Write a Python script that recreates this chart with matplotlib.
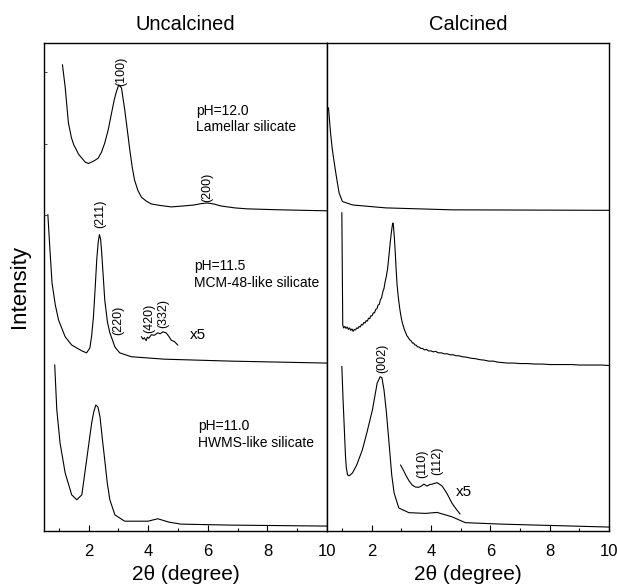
import matplotlib.pyplot as plt
from matplotlib.ticker import MultipleLocator

plt.rcParams["font.family"] = ["Liberation Sans", "DejaVu Sans"]

# --- uncalcined samples (2theta in degree, intensity in a.u., stacked) ---
lam_x = [1.12, 1.21, 1.32, 1.42, 1.50, 1.58, 1.66, 1.77, 1.88, 1.99, 2.10, 2.20, 2.32, 2.43,
         2.54, 2.66, 2.77, 2.86, 2.93, 3.01, 3.10, 3.21, 3.30, 3.38, 3.46, 3.54, 3.65, 3.77,
         3.93, 4.10, 4.40, 4.77, 5.20, 5.54, 5.80, 5.99, 6.20, 6.43, 6.90, 7.32, 8.43, 10.0]
lam_y = [95.5, 91.0, 83.6, 80.6, 79.1, 78.2, 77.2, 76.4, 75.6, 75.3, 75.6, 75.9, 76.4, 77.6,
         79.5, 82.3, 85.7, 88.4, 90.0, 91.4, 90.8, 86.3, 82.0, 78.1, 74.6, 71.9, 69.8, 68.4,
         67.6, 67.0, 66.7, 66.4, 66.6, 66.8, 67.1, 67.2, 67.0, 66.6, 66.2, 66.0, 65.8, 65.6]

mcm_x = [0.63, 0.70, 0.77, 0.88, 0.99, 1.21, 1.43, 1.77, 1.93, 2.04, 2.10, 2.16, 2.22, 2.27,
         2.32, 2.36, 2.40, 2.43, 2.48, 2.54, 2.63, 2.71, 2.80, 2.88, 3.04, 3.43, 4.54, 6.77, 10.0]
mcm_y = [64.8, 57.6, 50.8, 46.3, 43.2, 39.8, 38.1, 36.9, 36.5, 37.5, 40.0, 43.9, 50.0, 55.5,
         59.2, 60.7, 59.8, 57.6, 53.0, 47.3, 42.8, 40.6, 39.1, 37.7, 36.5, 35.7, 35.2, 34.8, 34.4]
mcm_x5_x = [3.77, 3.82, 3.87, 3.93, 3.97, 4.02, 4.10, 4.20, 4.32, 4.40, 4.49, 4.60, 4.70, 4.77, 4.88, 4.99]
mcm_x5_y = [39.8, 39.3, 39.6, 39.0, 39.7, 39.5, 40.2, 40.1, 40.6, 40.4, 40.8, 40.6, 39.8, 39.1, 38.8, 38.1]

hwm_x = [0.86, 0.93, 1.04, 1.21, 1.43, 1.60, 1.77, 1.93, 2.03, 2.10, 2.17, 2.24, 2.31, 2.38,
         2.46, 2.54, 2.62, 2.71, 2.88, 3.21, 3.60, 3.99, 4.32, 4.70, 5.10, 6.77, 10.0]
hwm_y = [34.0, 24.8, 18.0, 11.9, 7.4, 6.4, 7.4, 14.5, 19.0, 22.1, 24.4, 25.8, 25.4, 23.4,
         18.8, 14.5, 10.0, 6.4, 3.3, 2.0, 2.0, 2.0, 2.5, 1.8, 1.4, 1.2, 1.0]

# --- calcined samples ---
lam_c_x = [0.55, 0.62, 0.68, 0.78, 0.85, 0.91, 1.02, 1.36, 2.48, 4.71, 10.0]
lam_c_y = [86.7, 81.5, 78.1, 74.0, 71.3, 69.2, 67.5, 66.8, 66.2, 65.8, 65.7]

mcm_c_x = [1.00, 1.03, 1.06, 1.10, 1.14, 1.18, 1.22, 1.26, 1.30, 1.34, 1.38, 1.42, 1.46, 1.50,
           1.54, 1.58, 1.62, 1.66, 1.70, 1.74, 1.78, 1.82, 1.86, 1.90, 1.94, 1.98, 2.02, 2.06,
           2.10, 2.14, 2.18, 2.22, 2.26, 2.30, 2.34, 2.38, 2.42, 2.46, 2.50, 2.54, 2.58, 2.62,
           2.66, 2.70, 2.72, 2.74, 2.77, 2.80, 2.83, 2.86, 2.89, 2.92, 2.95, 2.98, 3.01, 3.04,
           3.07, 3.10, 3.13, 3.16, 3.19, 3.22, 3.26, 3.30, 3.34, 3.38, 3.42, 3.46, 3.50, 3.55,
           3.60, 3.66, 3.72, 3.78, 3.85, 3.92, 4.00, 4.08, 4.16, 4.25, 4.35, 4.45, 4.55, 4.65,
           4.75, 4.85, 4.95, 5.05, 5.20, 5.35, 5.50, 5.65, 5.80, 5.95, 6.10, 6.25, 6.40, 6.60,
           6.80, 7.00, 7.25, 7.50, 7.75, 8.00, 8.25, 8.50, 8.75, 9.00, 9.25, 9.50, 9.75, 10.0]
mcm_c_y = [65.2, 42.2, 41.6, 41.9, 41.5, 41.8, 41.3, 41.6, 41.1, 41.4, 40.9, 41.3, 41.2, 41.6,
           41.5, 41.9, 41.8, 42.3, 42.2, 42.7, 42.6, 43.1, 43.0, 43.6, 43.5, 44.1, 44.1, 44.7,
           44.7, 45.4, 45.5, 46.3, 46.4, 47.4, 47.8, 49.0, 49.7, 51.1, 52.2, 53.7, 56.0, 58.5,
           60.8, 62.6, 63.1, 62.4, 60.0, 57.0, 53.5, 50.5, 48.6, 47.0, 45.6, 44.4, 43.4, 42.6,
           42.0, 41.4, 40.9, 40.5, 40.0, 39.8, 39.4, 39.1, 38.9, 38.5, 38.5, 38.1, 38.1, 37.7,
           37.7, 37.4, 37.4, 37.1, 37.2, 36.9, 36.9, 36.7, 36.8, 36.5, 36.5, 36.3, 36.3, 36.1,
           36.1, 35.9, 35.9, 35.7, 35.6, 35.4, 35.3, 35.1, 35.0, 34.8, 34.8, 34.6, 34.5, 34.4,
           34.4, 34.3, 34.3, 34.2, 34.2, 34.1, 34.1, 34.1, 34.1, 34.0, 34.0, 34.0, 34.0, 33.9]

hwm_c_x = [1.00, 1.04, 1.08, 1.12, 1.15, 1.19, 1.25, 1.36, 1.50, 1.69, 1.85, 2.03, 2.19, 2.29,
           2.35, 2.42, 2.50, 2.59, 2.68, 2.76, 2.92, 3.26, 3.82, 4.21, 4.71, 5.16, 6.39, 10.0]
hwm_c_y = [33.7, 27.0, 21.4, 15.6, 13.0, 11.5, 11.3, 11.9, 13.5, 16.6, 20.3, 24.8, 30.3, 31.6,
           31.4, 28.9, 24.4, 18.0, 11.5, 7.8, 4.7, 3.75, 3.6, 3.8, 2.9, 1.7, 1.4, 0.8]
hwm_c_x5_x = [2.98, 3.06, 3.15, 3.26, 3.37, 3.48, 3.59, 3.68, 3.76, 3.87, 3.96, 4.04, 4.21, 4.38, 4.54, 4.71, 4.85, 4.98]
hwm_c_x5_y = [13.5, 12.6, 11.5, 10.3, 9.4, 9.0, 8.95, 9.2, 9.6, 9.2, 9.5, 9.6, 9.9, 9.2, 7.7, 5.7, 4.5, 3.5]

# reflection labels: (text, 2theta, bottom of label)
left_refl = [("(100)", 3.10, 91.2), ("(200)", 5.99, 67.4), ("(211)", 2.38, 62.1),
             ("(220)", 3.00, 40.2), ("(420)", 4.03, 40.6), ("(332)", 4.49, 41.6)]
right_refl = [("(002)", 2.36, 32.4), ("(110)", 3.70, 10.9), ("(112)", 4.21, 11.5)]

left_notes = [("pH=12.0\nLamellar silicate", 5.6, 84.4),
              ("pH=11.5\nMCM-48-like silicate", 5.54, 52.5),
              ("pH=11.0\nHWMS-like silicate", 5.66, 19.8)]
scale_marks = [(0, 5.41, 40.2), (1, 4.83, 8.05)]

fig = plt.figure(figsize=(6.17, 5.88), dpi=100)
ax_l = fig.add_axes([0.0713, 0.097, 0.4587, 0.830])
ax_r = fig.add_axes([0.5300, 0.097, 0.4570, 0.830])
axes = [ax_l, ax_r]

lw = 0.8
ax_l.plot(lam_x, lam_y, color="black", lw=lw)
ax_l.plot(mcm_x, mcm_y, color="black", lw=lw)
ax_l.plot(mcm_x5_x, mcm_x5_y, color="black", lw=lw)
ax_l.plot(hwm_x, hwm_y, color="black", lw=lw)

ax_r.plot(lam_c_x, lam_c_y, color="black", lw=lw)
ax_r.plot(mcm_c_x, mcm_c_y, color="black", lw=lw)
ax_r.plot(hwm_c_x, hwm_c_y, color="black", lw=lw)
ax_r.plot(hwm_c_x5_x, hwm_c_x5_y, color="black", lw=lw)

for ax, refl in zip(axes, [left_refl, right_refl]):
    for label, x, y in refl:
        ax.text(x, y, label, rotation=90, ha="center", va="bottom", fontsize=9)

for label, x, y in left_notes:
    ax_l.text(x, y, label, ha="left", va="center", fontsize=10, linespacing=1.25)

for i, x, y in scale_marks:
    axes[i].text(x, y, "x5", ha="left", va="center", fontsize=11)

for ax, title in zip(axes, ["Uncalcined", "Calcined"]):
    ax.set_xlim(0.5, 10)
    ax.set_ylim(0, 100)
    ax.xaxis.set_major_locator(MultipleLocator(2))
    ax.xaxis.set_minor_locator(MultipleLocator(1))
    ax.set_xticks([2, 4, 6, 8, 10])
    ax.tick_params(axis="x", which="both", direction="in", labelsize=12, pad=9.5)
    ax.tick_params(axis="x", which="major", length=4, width=0.8)
    ax.tick_params(axis="x", which="minor", length=2.5, width=0.8)
    ax.set_yticks([])
    ax.set_xlabel("2θ (degree)", fontsize=15, labelpad=4)
    ax.set_title(title, fontsize=14.5, pad=9.5)
    for s in ax.spines.values():
        s.set_linewidth(1.0)

ax_l.set_yticks([94.0, 79.3, 64.7])
ax_l.tick_params(axis="y", direction="in", length=2, width=0.5, labelleft=False)
ax_l.set_ylabel("Intensity", fontsize=16, labelpad=10)

fig.savefig("out.png", dpi=100)
